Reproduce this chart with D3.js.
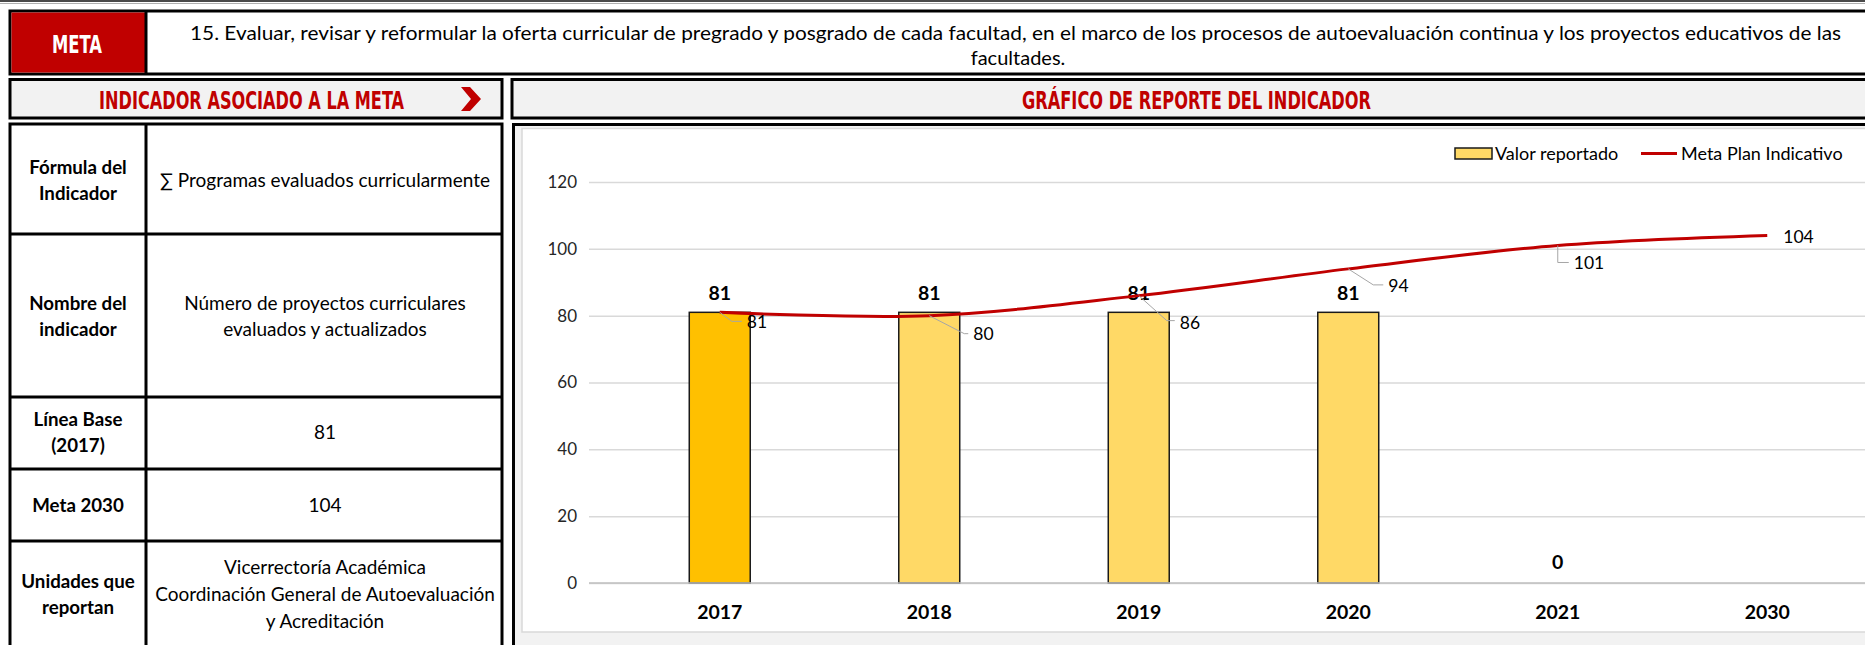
<!DOCTYPE html>
<html>
<head>
<meta charset="utf-8">
<script src="https://cdn.jsdelivr.net/npm/d3@7/dist/d3.min.js"></script>
<style>
  html, body { margin: 0; padding: 0; background: #ffffff; }
  svg { display: block; }
  .cond { font-family: "DejaVu Sans Condensed", "DejaVu Sans", sans-serif; font-weight: bold; }
  .txt { font-family: Lato, "Noto Sans", sans-serif; fill: #000; }
</style>
</head>
<body>
<svg id="page" width="1865" height="645"></svg>
<script>
// Indicator report data
const categories = ["2017", "2018", "2019", "2020", "2021", "2030"];
const reportedValues = [81, 81, 81, 81, 0, null];
const planValues = [81, 80, 86, 94, 101, 104];
const yTicks = [0, 20, 40, 60, 80, 100, 120];
const seriesNames = ["Valor reportado", "Meta Plan Indicativo"];

const metaText = [
  "15. Evaluar, revisar y reformular la oferta curricular de pregrado y posgrado de cada facultad, en el marco de los procesos de autoevaluación continua y los proyectos educativos de las",
  "facultades."
];
const tableRows = [
  { label: ["Fórmula del", "Indicador"], value: ["∑ Programas evaluados curricularmente"] },
  { label: ["Nombre del", "indicador"], value: ["Número de proyectos curriculares", "evaluados y actualizados"] },
  { label: ["Línea Base", "(2017)"], value: ["81"] },
  { label: ["Meta 2030"], value: ["104"] },
  { label: ["Unidades que", "reportan"], value: ["Vicerrectoría Académica", "Coordinación General de Autoevaluación", "y Acreditación"] }
];

const RED = "#c00000";
const svg = d3.select("#page");

// ---------- page frame ----------
svg.append("rect").attr("x", 0).attr("y", 0).attr("width", 1865).attr("height", 2).attr("fill", "#4a4a4a");
svg.append("rect").attr("x", 0).attr("y", 3).attr("width", 1865).attr("height", 1).attr("fill", "#b0b0b0");

// META row
svg.append("rect").attr("x", 10).attr("y", 11).attr("width", 1880).attr("height", 63)
  .attr("fill", "#fff").attr("stroke", "#000").attr("stroke-width", 3);
svg.append("rect").attr("x", 11.5).attr("y", 12.5).attr("width", 134.5).attr("height", 60).attr("fill", RED);
svg.append("line").attr("x1", 146).attr("x2", 146).attr("y1", 11).attr("y2", 74).attr("stroke", "#000").attr("stroke-width", 3);
svg.append("text").attr("class", "cond").attr("x", 52).attr("y", 53)
  .attr("font-size", 25).attr("fill", "#fff")
  .attr("textLength", 50).attr("lengthAdjust", "spacingAndGlyphs").text("META");
svg.append("text").attr("class", "txt").attr("x", 190).attr("y", 40).attr("font-size", 20)
  .attr("textLength", 1651).attr("lengthAdjust", "spacingAndGlyphs").text(metaText[0]);
svg.append("text").attr("class", "txt").attr("x", 1018).attr("y", 65).attr("font-size", 20)
  .attr("text-anchor", "middle").text(metaText[1]);

// section headers
function headerBox(x, w, label, tx, tw) {
  svg.append("rect").attr("x", x).attr("y", 79.5).attr("width", w).attr("height", 38.5)
    .attr("fill", "#f2f2f2").attr("stroke", "#000").attr("stroke-width", 3);
  svg.append("text").attr("class", "cond").attr("x", tx).attr("y", 108.5)
    .attr("font-size", 24).attr("fill", RED)
    .attr("textLength", tw).attr("lengthAdjust", "spacingAndGlyphs").text(label);
}
headerBox(10, 492, "INDICADOR ASOCIADO A LA META", 99, 305);
headerBox(512, 1380, "GRÁFICO DE REPORTE DEL INDICADOR", 1022, 349);
// chevron marker
svg.append("path").attr("d", "M461,87 L470,87 L481,99 L470,111 L461,111 L471,99 Z").attr("fill", RED);

// ---------- left table ----------
const tableTop = 124, colX = [10, 146, 502];
const rowEdges = [124, 234, 397, 469, 541, 660];
svg.append("rect").attr("x", colX[0]).attr("y", tableTop).attr("width", colX[2] - colX[0]).attr("height", 540)
  .attr("fill", "#fff").attr("stroke", "#000").attr("stroke-width", 3);
svg.append("line").attr("x1", colX[1]).attr("x2", colX[1]).attr("y1", tableTop).attr("y2", 660)
  .attr("stroke", "#000").attr("stroke-width", 3);
rowEdges.slice(1, -1).forEach(y => {
  svg.append("line").attr("x1", colX[0]).attr("x2", colX[2]).attr("y1", y).attr("y2", y)
    .attr("stroke", "#000").attr("stroke-width", 3);
});
const lineGap = 26;
const rowCenters = [180, 316, 432, 505, 594];
tableRows.forEach((row, i) => {
  const cy = rowCenters[i];
  const lab = svg.append("text").attr("class", "txt").attr("font-weight", "bold").attr("font-size", 18.7)
    .attr("text-anchor", "middle");
  row.label.forEach((t, k) => {
    lab.append("tspan").attr("x", (colX[0] + colX[1]) / 2)
      .attr("y", cy + 7 + (k - (row.label.length - 1) / 2) * lineGap).text(t);
  });
  const val = svg.append("text").attr("class", "txt").attr("font-size", 19).attr("text-anchor", "middle");
  row.value.forEach((t, k) => {
    val.append("tspan").attr("x", (colX[1] + colX[2]) / 2 + 1)
      .attr("y", cy + 7 + (k - (row.value.length - 1) / 2) * (row.value.length > 2 ? 27 : lineGap)).text(t);
  });
});

// ---------- chart panel ----------
svg.append("rect").attr("x", 513.5).attr("y", 124.5).attr("width", 1380).attr("height", 540)
  .attr("fill", "#f2f2f2").attr("stroke", "#000").attr("stroke-width", 3);
svg.append("rect").attr("x", 522).attr("y", 128.5).attr("width", 1360).attr("height", 503.5)
  .attr("fill", "#fff").attr("stroke", "#d9d9d9").attr("stroke-width", 1.5);

const x = d3.scaleBand().domain(categories).range([615, 1872]).paddingInner(0.709).paddingOuter(0.3545);
const y = d3.scaleLinear().domain([0, 120]).range([583, 182]);
const cx = c => x(c) + x.bandwidth() / 2;

const chart = svg.append("g");

// gridlines and y-axis labels via d3.axisLeft
const yAxis = d3.axisLeft(y).tickValues(yTicks).tickSize(-(1865 - 589)).tickPadding(12);
const yg = chart.append("g").attr("transform", "translate(589,0)").call(yAxis);
yg.select(".domain").remove();
yg.selectAll(".tick line").attr("stroke", "#d9d9d9").attr("stroke-width", 1.5);
yg.selectAll(".tick text").attr("font-family", "Lato, 'Noto Sans', sans-serif").attr("font-size", 17)
  .attr("fill", "#262626");

// x-axis labels via d3.axisBottom
const xAxis = d3.axisBottom(x).tickSize(0).tickPadding(0);
const xg = chart.append("g").attr("transform", "translate(0,619)").call(xAxis);
xg.select(".domain").remove();
xg.selectAll(".tick text").attr("font-family", "Lato, 'Noto Sans', sans-serif").attr("font-size", 19.5)
  .attr("font-weight", "bold").attr("fill", "#000").attr("dy", 0);

// bars
const barData = categories.map((c, i) => ({ c, v: reportedValues[i], i })).filter(d => d.v !== null);
chart.selectAll("rect.bar").data(barData.filter(d => d.v > 0)).enter().append("rect")
  .attr("class", "bar")
  .attr("x", d => x(d.c)).attr("width", x.bandwidth())
  .attr("y", d => y(d.v)).attr("height", d => y(0) - y(d.v))
  .attr("fill", d => d.i === 0 ? "#ffc000" : "#ffd966")
  .attr("stroke", "#1a1a1a").attr("stroke-width", 1.5);
chart.append("line").attr("x1", 589).attr("x2", 1865).attr("y1", y(0)).attr("y2", y(0))
  .attr("stroke", "#bfbfbf").attr("stroke-width", 1.5);
chart.selectAll("text.barlab").data(barData).enter().append("text")
  .attr("class", "barlab txt").attr("x", d => cx(d.c)).attr("y", d => y(d.v) - 12 - (d.v === 0 ? 2 : 0))
  .attr("text-anchor", "middle").attr("font-size", 19.5).attr("font-weight", "bold").text(d => d.v);

// plan line (smoothed)
const planPts = categories.map((c, i) => ({ c, v: planValues[i] }));
const line = d3.line().x(d => cx(d.c)).y(d => y(d.v)).curve(d3.curveCatmullRom.alpha(0.5));
chart.append("path").datum(planPts).attr("d", line)
  .attr("fill", "none").attr("stroke", RED).attr("stroke-width", 3);

// plan data labels with leader lines: [text dx, text dy, elbow dx, elbow dy]
const labelPlacement = [[27, 10, 12, 9], [44, 18, 35, 18], [41, 27, 28, 25], [40, 17, 25, 16], [16, 18, 0, 17], [16, 2, null, null]];
planPts.forEach((d, i) => {
  const px = cx(d.c), py = y(d.v);
  const [tdx, tdy, edx, edy] = labelPlacement[i];
  if (edx !== null) {
    chart.append("polyline")
      .attr("points", [[px, py], [px + edx, py + edy], [px + tdx - 5, py + edy]].map(p => p.join(",")).join(" "))
      .attr("fill", "none").attr("stroke", "#a6a6a6").attr("stroke-width", 1);
  }
  chart.append("text").attr("class", "txt").attr("x", px + tdx).attr("y", py + tdy + 6)
    .attr("font-size", 17.5).text(d.v);
});

// legend
const lg = chart.append("g");
lg.append("rect").attr("x", 1455).attr("y", 148).attr("width", 37).attr("height", 11)
  .attr("fill", "#ffd966").attr("stroke", "#1a1a1a").attr("stroke-width", 1.5);
lg.append("text").attr("class", "txt").attr("x", 1495).attr("y", 160).attr("font-size", 18).text(seriesNames[0]);
lg.append("line").attr("x1", 1641).attr("x2", 1677).attr("y1", 153.5).attr("y2", 153.5)
  .attr("stroke", RED).attr("stroke-width", 3);
lg.append("text").attr("class", "txt").attr("x", 1681).attr("y", 160).attr("font-size", 18).text(seriesNames[1]);
</script>
</body>
</html>
